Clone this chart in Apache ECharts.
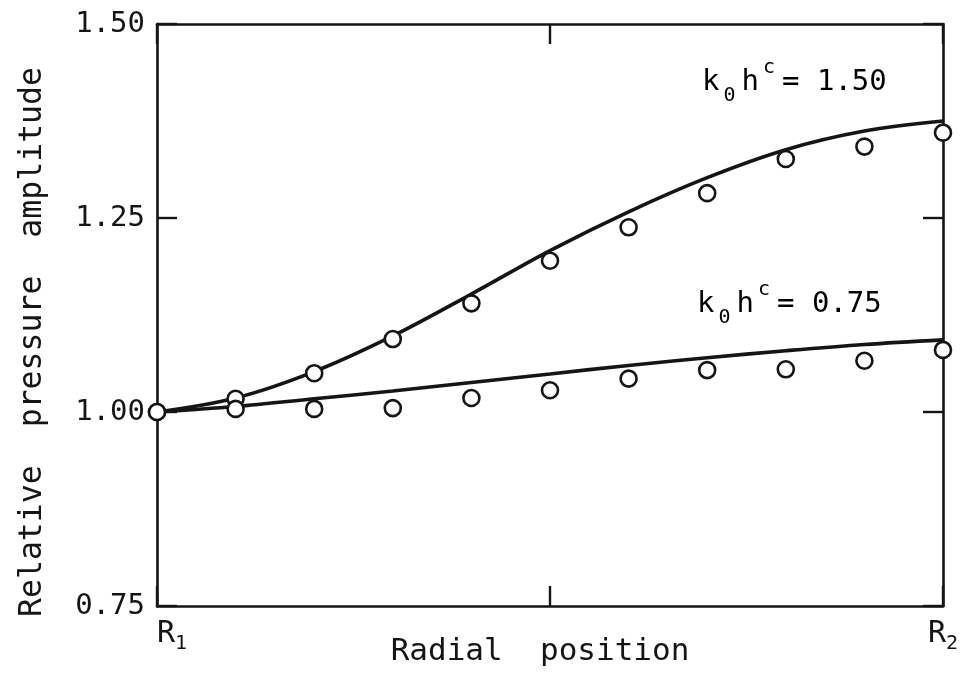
<!DOCTYPE html>
<html>
<head>
<meta charset="utf-8">
<script src="https://cdn.jsdelivr.net/npm/echarts@6/dist/echarts.min.js"></script>
<style>
html,body{margin:0;padding:0;background:#fff;}
#chart{width:963px;height:678px;}
</style>
</head>
<body>
<div id="chart"></div>
<script>
// Radial position, as fraction of the way from R1 to R2
var radialPos = [0, 0.1, 0.2, 0.3, 0.4, 0.5, 0.6, 0.7, 0.8, 0.9, 1.0];
// Measured (circles)
var measured150 = [1.000, 1.017, 1.050, 1.094, 1.140, 1.195, 1.238, 1.282, 1.326, 1.342, 1.360];
var measured075 = [1.000, 1.004, 1.004, 1.005, 1.018, 1.028, 1.043, 1.054, 1.055, 1.066, 1.080];
// Calculated (solid curves)
var theory150 = [1.000, 1.018, 1.052, 1.098, 1.152, 1.208, 1.258, 1.302, 1.338, 1.362, 1.375];
var theory075 = [1.000, 1.007, 1.017, 1.027, 1.038, 1.049, 1.060, 1.070, 1.079, 1.087, 1.093];
// Axis texts
var yTicks = [0.75, 1.00, 1.25, 1.50];
var xName = 'Radial  position';
var yName = 'Relative  pressure  amplitude';
var curveLabels = ['1.50', '0.75'];

function pairs(xs, ys) { return xs.map(function (x, i) { return [x, ys[i]]; }); }

var INK = '#151515';
var FONT = '"DejaVu Sans Mono", monospace';

var chart = echarts.init(document.getElementById('chart'), null, {renderer: 'canvas'});

var axisLineStyle = {onZero: false, lineStyle: {color: INK, width: 2.6}};
var tickStyle = {show: true, inside: true, length: 20, lineStyle: {color: INK, width: 2.4}};

function khLabel(val) {
  return '{m|k}{sub|0}{m|h}{sup|c}{eq|= ' + val + '}';
}
var khRich = {
  m: {fontFamily: FONT, fontSize: 29, color: INK, lineHeight: 48, verticalAlign: 'middle'},
  eq: {fontFamily: FONT, fontSize: 29, color: INK, lineHeight: 48, verticalAlign: 'middle', padding: [0, 0, 0, 3]},
  sub: {fontFamily: FONT, fontSize: 20, color: INK, lineHeight: 22, verticalAlign: 'bottom', padding: [0, 6, 0, 4]},
  sup: {fontFamily: FONT, fontSize: 20, color: INK, lineHeight: 26, verticalAlign: 'top', padding: [0, 4, 0, 4]}
};

var option = {
  backgroundColor: '#fff',
  animation: false,
  grid: {left: 157, right: 20, top: 24, bottom: 72, containLabel: false, outerBoundsMode: 'none'},
  xAxis: [{
    type: 'value', min: 0, max: 1, interval: 0.5, position: 'bottom',
    name: xName, nameLocation: 'middle', nameGap: 30, nameMoveOverlap: false,
    nameTextStyle: {fontFamily: FONT, fontSize: 31, color: INK, padding: [0, 20, 0, 0]},
    axisLine: axisLineStyle, axisTick: tickStyle, splitLine: {show: false},
    axisLabel: {
      margin: 8,
      alignMinLabel: 'left', alignMaxLabel: 'center',
      formatter: function (v) {
        if (v === 0) return '{r|R}{s|1}';
        if (v === 1) return '{r|R}{s|2}';
        return '';
      },
      rich: {
        r: {fontFamily: FONT, fontSize: 30, color: INK, lineHeight: 40, verticalAlign: 'middle'},
        s: {fontFamily: FONT, fontSize: 20, color: INK, lineHeight: 22, verticalAlign: 'bottom'}
      }
    }
  }, {
    type: 'value', min: 0, max: 1, interval: 0.5, position: 'top',
    axisLine: axisLineStyle, axisTick: tickStyle, axisLabel: {show: false}, splitLine: {show: false}
  }],
  yAxis: [{
    type: 'value', min: yTicks[0], max: yTicks[yTicks.length - 1], interval: 0.25, position: 'left',
    name: yName, nameLocation: 'middle', nameGap: 108, nameRotate: 90, nameMoveOverlap: false,
    nameTextStyle: {fontFamily: FONT, fontSize: 31.5, color: INK, padding: [0, 54, 0, 0]},
    axisLine: axisLineStyle, axisTick: tickStyle, splitLine: {show: false},
    axisLabel: {
      margin: 12, fontFamily: FONT, fontSize: 29, color: INK,
      formatter: function (v) { return v.toFixed(2); }
    }
  }, {
    type: 'value', min: yTicks[0], max: yTicks[yTicks.length - 1], interval: 0.25, position: 'right',
    axisLine: axisLineStyle, axisTick: tickStyle, axisLabel: {show: false}, splitLine: {show: false}
  }],
  series: [
    {
      type: 'line', data: pairs(radialPos, theory150), smooth: 0.35, showSymbol: false,
      lineStyle: {color: INK, width: 3.6}, z: 2, silent: true
    },
    {
      type: 'line', data: pairs(radialPos, theory075), smooth: 0.35, showSymbol: false,
      lineStyle: {color: INK, width: 3.6}, z: 2, silent: true
    },
    {
      type: 'scatter', data: pairs(radialPos, measured150), symbol: 'circle', symbolSize: 16,
      itemStyle: {color: '#fff', borderColor: INK, borderWidth: 2.6, opacity: 1}, z: 5
    },
    {
      type: 'scatter', data: pairs(radialPos, measured075), symbol: 'circle', symbolSize: 16,
      itemStyle: {color: '#fff', borderColor: INK, borderWidth: 2.6, opacity: 1}, z: 5
    }
  ],
  graphic: [
    {type: 'text', left: 702, top: 58, z: 10,
     style: {text: khLabel(curveLabels[0]), rich: khRich}},
    {type: 'text', left: 697, top: 280, z: 10,
     style: {text: khLabel(curveLabels[1]), rich: khRich}}
  ]
};
chart.setOption(option);
</script>
</body>
</html>
